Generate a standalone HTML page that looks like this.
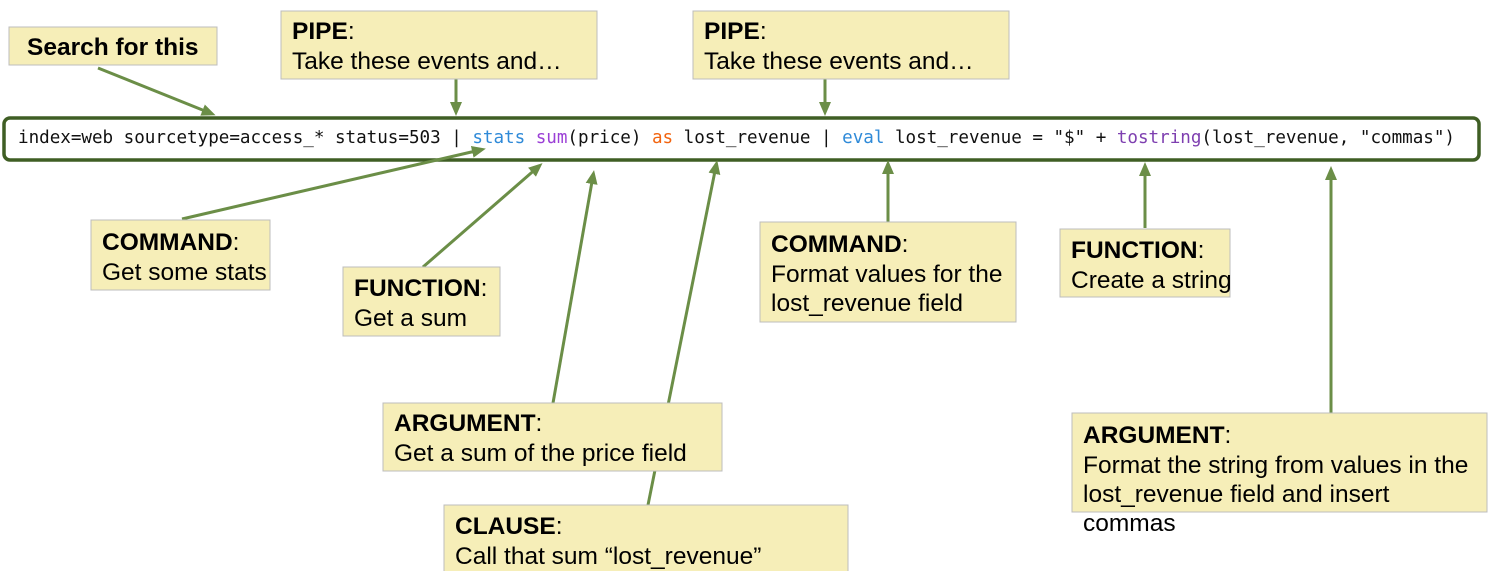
<!DOCTYPE html>
<html><head><style>
html,body{margin:0;padding:0;background:#fff;width:1492px;height:571px;overflow:hidden}
svg text{font-family:"Liberation Sans",sans-serif;font-size:24.5px;fill:#000}
.b{font-weight:bold}
.box{fill:#f6eeb8;stroke:#bdbdbd;stroke-width:1}
.code{font-family:"DejaVu Sans Mono","Liberation Mono",monospace;font-size:17.6px;fill:#111}
</style></head><body>
<svg width="1492" height="571" xmlns="http://www.w3.org/2000/svg">
<defs>
<marker id="a" markerWidth="16" markerHeight="16" refX="8" refY="8" orient="auto" markerUnits="userSpaceOnUse">
<path d="M0,2 L14,8 L0,14 z" fill="#6b8e47"/>
</marker>
</defs>
<rect x="4" y="118" width="1475" height="42" rx="6" fill="#fff" stroke="#3f5e24" stroke-width="3.5"/>
<text class="code" x="18" y="143" textLength="1437" lengthAdjust="spacing" xml:space="preserve">index=web sourcetype=access_* status=503 | <tspan fill="#2f8ad8">stats</tspan> <tspan fill="#9b3fd6">sum</tspan>(price) <tspan fill="#f2640f">as</tspan> lost_revenue | <tspan fill="#2f8ad8">eval</tspan> lost_revenue = "$" + <tspan fill="#7e3fb0">tostring</tspan>(lost_revenue, "commas")</text>

<g stroke="#6b8e47" stroke-width="3" fill="none" marker-end="url(#a)">
<line x1="98" y1="68" x2="210" y2="113"/>
<line x1="456" y1="79" x2="456" y2="110"/>
<line x1="825" y1="79" x2="825" y2="110"/>
<line x1="182" y1="219" x2="480" y2="150"/>
<line x1="423" y1="267" x2="538" y2="167"/>
<line x1="553" y1="403" x2="593" y2="176"/>
<line x1="648" y1="505" x2="716" y2="166"/>
<line x1="888" y1="222" x2="888" y2="166"/>
<line x1="1145" y1="228" x2="1145" y2="168"/>
<line x1="1331" y1="413" x2="1331" y2="172"/>
</g>

<rect class="box" x="9" y="27" width="208" height="38"/>
<text class="b" x="27" y="55">Search for this</text>

<rect class="box" x="281" y="11" width="316" height="68"/>
<text x="292" y="39"><tspan class="b">PIPE</tspan>:</text>
<text x="292" y="69">Take these events and…</text>

<rect class="box" x="693" y="11" width="316" height="68"/>
<text x="704" y="39"><tspan class="b">PIPE</tspan>:</text>
<text x="704" y="69">Take these events and…</text>

<rect class="box" x="91" y="220" width="179" height="70"/>
<text x="102" y="250"><tspan class="b">COMMAND</tspan>:</text>
<text x="102" y="280">Get some stats</text>

<rect class="box" x="343" y="267" width="157" height="69"/>
<text x="354" y="296"><tspan class="b">FUNCTION</tspan>:</text>
<text x="354" y="326">Get a sum</text>

<rect class="box" x="760" y="222" width="256" height="100"/>
<text x="771" y="252"><tspan class="b">COMMAND</tspan>:</text>
<text x="771" y="282">Format values for the</text>
<text x="771" y="311">lost_revenue field</text>

<rect class="box" x="1060" y="229" width="170" height="68"/>
<text x="1071" y="258"><tspan class="b">FUNCTION</tspan>:</text>
<text x="1071" y="288">Create a string</text>

<rect class="box" x="383" y="403" width="339" height="68"/>
<text x="394" y="431"><tspan class="b">ARGUMENT</tspan>:</text>
<text x="394" y="461">Get a sum of the price field</text>

<rect class="box" x="444" y="505" width="404" height="70"/>
<text x="455" y="534"><tspan class="b">CLAUSE</tspan>:</text>
<text x="455" y="564">Call that sum “lost_revenue”</text>

<rect class="box" x="1072" y="413" width="415" height="99"/>
<text x="1083" y="443"><tspan class="b">ARGUMENT</tspan>:</text>
<text x="1083" y="473">Format the string from values in the</text>
<text x="1083" y="502">lost_revenue field and insert</text>
<text x="1083" y="531">commas</text>
</svg>
</body></html>
